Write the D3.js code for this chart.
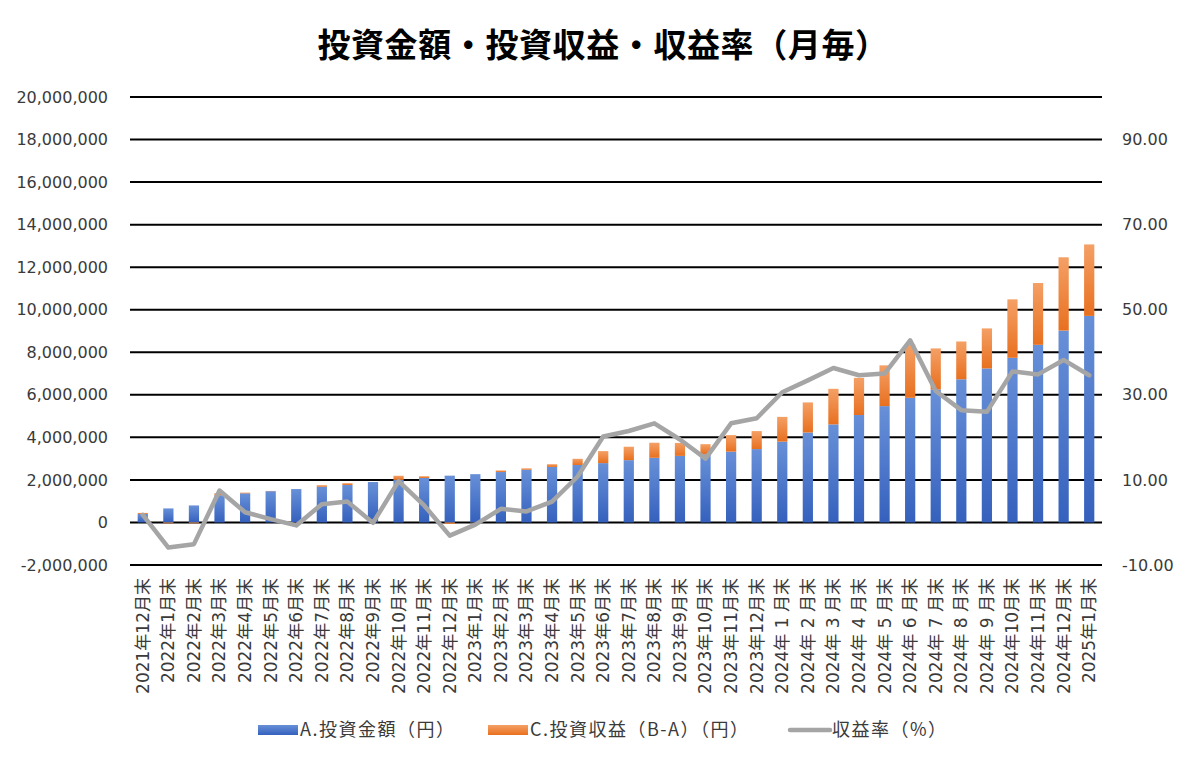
<!DOCTYPE html>
<html>
<head>
<meta charset="utf-8">
<script src="https://cdn.jsdelivr.net/npm/d3@7"></script>
<style>
  body { margin: 0; background: #fff; }
  text { font-family: "Noto Sans CJK JP", "Noto Sans", sans-serif; }
</style>
</head>
<body>
<div id="chart"></div>
<script>
var months = ["2021年12月末", "2022年1月末", "2022年2月末", "2022年3月末", "2022年4月末", "2022年5月末",
  "2022年6月末", "2022年7月末", "2022年8月末", "2022年9月末", "2022年10月末", "2022年11月末",
  "2022年12月末", "2023年1月末", "2023年2月末", "2023年3月末", "2023年4月末", "2023年5月末",
  "2023年6月末", "2023年7月末", "2023年8月末", "2023年9月末", "2023年10月末", "2023年11月末",
  "2023年12月末", "2024年 1 月末", "2024年 2 月末", "2024年 3 月末", "2024年 4 月末", "2024年 5 月末",
  "2024年 6 月末", "2024年 7 月末", "2024年 8 月末", "2024年 9 月末", "2024年10月末", "2024年11月末",
  "2024年12月末", "2025年1月末"];

// A. 投資金額（円）
var invested = [400000, 660000, 800000, 1280000, 1370000, 1470000, 1570000, 1680000, 1760000, 1900000,
  2000000, 2090000, 2200000, 2270000, 2370000, 2480000, 2610000, 2700000, 2790000, 2930000,
  3040000, 3130000, 3200000, 3330000, 3450000, 3800000, 4230000, 4610000, 5050000, 5470000,
  5860000, 6250000, 6730000, 7240000, 7740000, 8350000, 9020000, 9710000];

// C. 投資収益（B-A）（円）
var profit = [50000, -40000, -40000, 95000, 35000, 12000, -10000, 72000, 86000, 0,
  195000, 84000, -68000, -12000, 76000, 64000, 128000, 292000, 564000, 630000,
  708000, 610000, 480000, 776000, 845000, 1163000, 1413000, 1673000, 1747000, 1915000,
  2508000, 1931000, 1777000, 1882000, 2748000, 2906000, 3445000, 3360000];

// 収益率（%）
var rate = [1.8, -5.9, -5.1, 7.5, 2.4, 0.8, -0.7, 4.3, 4.9, -0.1,
  9.7, 4.0, -3.1, -0.5, 3.2, 2.6, 4.9, 10.8, 20.2, 21.5,
  23.3, 19.5, 15.0, 23.3, 24.5, 30.6, 33.4, 36.3, 34.6, 35.0,
  42.8, 30.9, 26.4, 26.0, 35.5, 34.8, 38.2, 34.6];

var leftTicks = d3.range(-2000000, 20000001, 2000000);
var rightTicks = [-10, 10, 30, 50, 70, 90];

var W = 1196, H = 761;
var plot = {left: 130, right: 1102, top: 97, bottom: 565};
var numFont = "\"DejaVu Sans\", \"Noto Sans CJK JP\", sans-serif";
var textColor = "#3a3a3a";

var svg = d3.select("#chart").append("svg")
  .attr("width", W).attr("height", H);

var defs = svg.append("defs");
function grad(id, c1, c2) {
  var g = defs.append("linearGradient").attr("id", id)
    .attr("x1", 0).attr("y1", 0).attr("x2", 0).attr("y2", 1);
  g.append("stop").attr("offset", "0%").attr("stop-color", c1);
  g.append("stop").attr("offset", "100%").attr("stop-color", c2);
}
grad("gBlue", "#6890d8", "#3561bd");
grad("gOrange", "#f4a066", "#e8701f");

var x = d3.scaleBand().domain(months).range([plot.left, plot.right]).paddingInner(0.6).paddingOuter(0.3);
var y = d3.scaleLinear().domain([-2000000, 20000000]).range([plot.bottom, plot.top]);
var y2 = d3.scaleLinear().domain([-10, 100]).range([plot.bottom, plot.top]);

// title
svg.append("text")
  .attr("x", 603).attr("y", 57)
  .attr("text-anchor", "middle")
  .style("font-size", "33px").style("font-weight", "bold")
  .style("letter-spacing", "0.6px")
  .attr("fill", "#000")
  .text("投資金額・投資収益・収益率（月毎）");

// gridlines
svg.append("g").selectAll("line").data(leftTicks).join("line")
  .attr("x1", plot.left).attr("x2", plot.right)
  .attr("y1", function(d) { return y(d); }).attr("y2", function(d) { return y(d); })
  .attr("stroke", "#000").attr("stroke-width", 2);

// left axis
var yAxis = svg.append("g")
  .attr("transform", "translate(" + (plot.left - 22) + ",0)")
  .call(d3.axisLeft(y).tickValues(leftTicks).tickSize(0).tickPadding(0)
    .tickFormat(function(d) { return d3.format(",")(d).replace("−", "-"); }));
yAxis.select(".domain").remove();
yAxis.selectAll("text").style("font-size", "16px").attr("fill", textColor)
  .style("font-family", numFont);

// right axis
var y2Axis = svg.append("g")
  .attr("transform", "translate(" + (plot.right + 20) + ",0)")
  .call(d3.axisRight(y2).tickValues(rightTicks).tickSize(0).tickPadding(0)
    .tickFormat(function(d) { return d3.format(".2f")(d).replace("−", "-"); }));
y2Axis.select(".domain").remove();
y2Axis.selectAll("text").style("font-size", "16px").attr("fill", textColor)
  .style("font-family", numFont);

// bars: blue (A) from 0, orange (C) stacked on top if positive, below 0 if negative
var bars = svg.append("g");
bars.selectAll("rect.a").data(months).join("rect").attr("class", "a")
  .attr("x", function(d) { return x(d); })
  .attr("width", x.bandwidth())
  .attr("y", function(d, i) { return y(invested[i]); })
  .attr("height", function(d, i) { return y(0) - y(invested[i]); })
  .attr("fill", "url(#gBlue)");

bars.selectAll("rect.c").data(months).join("rect").attr("class", "c")
  .attr("x", function(d) { return x(d); })
  .attr("width", x.bandwidth())
  .attr("y", function(d, i) { return profit[i] >= 0 ? y(invested[i] + profit[i]) : y(0); })
  .attr("height", function(d, i) { return Math.abs(y(0) - y(profit[i])); })
  .attr("fill", "url(#gOrange)");

// rate line
var line = d3.line()
  .x(function(d, i) { return x(months[i]) + x.bandwidth() / 2; })
  .y(function(d) { return y2(d); });
svg.append("path").datum(rate)
  .attr("d", line)
  .attr("fill", "none")
  .attr("stroke", "#a5a5a5")
  .attr("stroke-width", 4.5)
  .attr("stroke-linejoin", "round")
  .attr("stroke-linecap", "round");

// x labels
svg.append("g").selectAll("text").data(months).join("text")
  .attr("transform", function(d) {
    return "translate(" + (x(d) + x.bandwidth() / 2) + "," + (plot.bottom + 13) + ") rotate(-90)";
  })
  .attr("text-anchor", "end")
  .attr("dy", "0.35em")
  .style("font-size", "17px")
  .style("font-family", numFont)
  .attr("fill", textColor)
  .text(function(d) { return d; });

// legend
var legend = [
  {label: "A.投資金額（円）", type: "rect", fill: "url(#gBlue)", x: 258},
  {label: "C.投資収益（B-A）（円）", type: "rect", fill: "url(#gOrange)", x: 488},
  {label: "収益率（%）", type: "line", fill: "#a5a5a5", x: 790}
];
var lg = svg.append("g").selectAll("g").data(legend).join("g")
  .attr("transform", function(d) { return "translate(" + d.x + ",730)"; });
lg.each(function(d) {
  var g = d3.select(this);
  if (d.type === "rect") {
    g.append("rect").attr("x", 0).attr("y", -5).attr("width", 40).attr("height", 10).attr("fill", d.fill);
  } else {
    g.append("line").attr("x1", 0).attr("x2", 40).attr("y1", 0).attr("y2", 0)
      .attr("stroke", d.fill).attr("stroke-width", 4.5).attr("stroke-linecap", "round");
  }
  g.append("text").attr("x", 42).attr("dy", "0.35em")
    .style("font-size", "18px").style("letter-spacing", "1.5px")
    .attr("fill", textColor).text(d.label);
});
</script>
</body>
</html>
